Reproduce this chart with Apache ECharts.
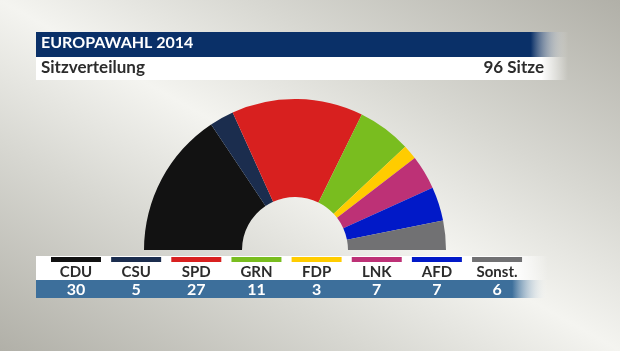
<!DOCTYPE html>
<html>
<head>
<meta charset="utf-8">
<script src="https://cdn.jsdelivr.net/npm/echarts@6/dist/echarts.min.js"></script>
<style>
  html, body { margin: 0; padding: 0; }
  #chart { width: 620px; height: 351px; }
</style>
</head>
<body>
<div id="chart"></div>
<script>
// data
const parties = ['CDU', 'CSU', 'SPD', 'GRN', 'FDP', 'LNK', 'AFD', 'Sonst.'];
const seats = [30, 5, 27, 11, 3, 7, 7, 6];
const partyColors = ['#121212', '#1b2d4e', '#d8201f', '#79bd1f', '#ffcc00', '#bd3176', '#0119c8', '#717173'];
const headline = 'EUROPAWAHL 2014';
const subline = 'Sitzverteilung';

const total = seats.reduce((a, b) => a + b, 0);
const FONT = 'Lato';

const chart = echarts.init(document.getElementById('chart'));

// band with a soft fade on the right end
function fadeRect(x, y, w, h, color, fadeFrom) {
  return {
    type: 'rect',
    shape: { x, y, width: w, height: h },
    style: {
      fill: new echarts.graphic.LinearGradient(0, 0, 1, 0, [
        { offset: 0, color },
        { offset: fadeFrom, color },
        { offset: 1, color: 'rgba(255,255,255,0)' }
      ])
    },
    silent: true
  };
}

const graphics = [
  fadeRect(36, 32, 532, 25, '#0a3068', 0.93),
  fadeRect(36, 57, 532, 23, '#ffffff', 0.95),
  {
    type: 'text', left: 41, top: 35, silent: true,
    style: { text: headline, fill: '#fff', font: `bold 16px ${FONT}` }
  },
  {
    type: 'text', left: 41, top: 59, silent: true,
    style: { text: subline, fill: '#2c2c2c', font: `bold 17px ${FONT}` }
  },
  {
    type: 'text', right: 76, top: 59, silent: true,
    style: { text: total + ' Sitze', fill: '#2c2c2c', font: `bold 17px ${FONT}`, textAlign: 'right' }
  },
  fadeRect(36, 256, 512, 24, '#ffffff', 0.93),
  fadeRect(36, 280, 512, 18, '#3d6f9b', 0.93)
];

// legend: colour bar, party name, seat count
const step = 60.15;
parties.forEach((p, i) => {
  const cx = 76 + step * i;
  graphics.push({
    type: 'rect', silent: true,
    shape: { x: cx - 25, y: 257, width: 50, height: 5 },
    style: { fill: partyColors[i] }
  });
  graphics.push({
    type: 'text', silent: true, x: cx, y: 272,
    style: { text: p, fill: '#2c2c2c', font: `bold 15px ${FONT}`, align: 'center', verticalAlign: 'middle' }
  });
  graphics.push({
    type: 'text', silent: true, x: cx, y: 289.5,
    style: { text: String(seats[i]), fill: '#ffffff', font: `bold 16px ${FONT}`, align: 'center', verticalAlign: 'middle' }
  });
});

chart.setOption({
  animation: false,
  backgroundColor: {
    type: 'linear', x: 160, y: 441, x2: 460, y2: -90, global: true,
    colorStops: [
      { offset: 0, color: '#b1b0a8' },
      { offset: 0.3, color: '#d8d8d2' },
      { offset: 0.5, color: '#f4f4f0' },
      { offset: 0.7, color: '#d8d8d2' },
      { offset: 1, color: '#b1b0a8' }
    ]
  },
  graphic: graphics,
  series: [{
    type: 'pie',
    silent: true,
    center: [295, 250],
    radius: [53, 151],
    startAngle: 180,
    endAngle: 0,
    clockwise: true,
    label: { show: false },
    labelLine: { show: false },
    data: parties.map((p, i) => ({
      name: p,
      value: seats[i],
      itemStyle: { color: partyColors[i] }
    }))
  }]
});
</script>
</body>
</html>
